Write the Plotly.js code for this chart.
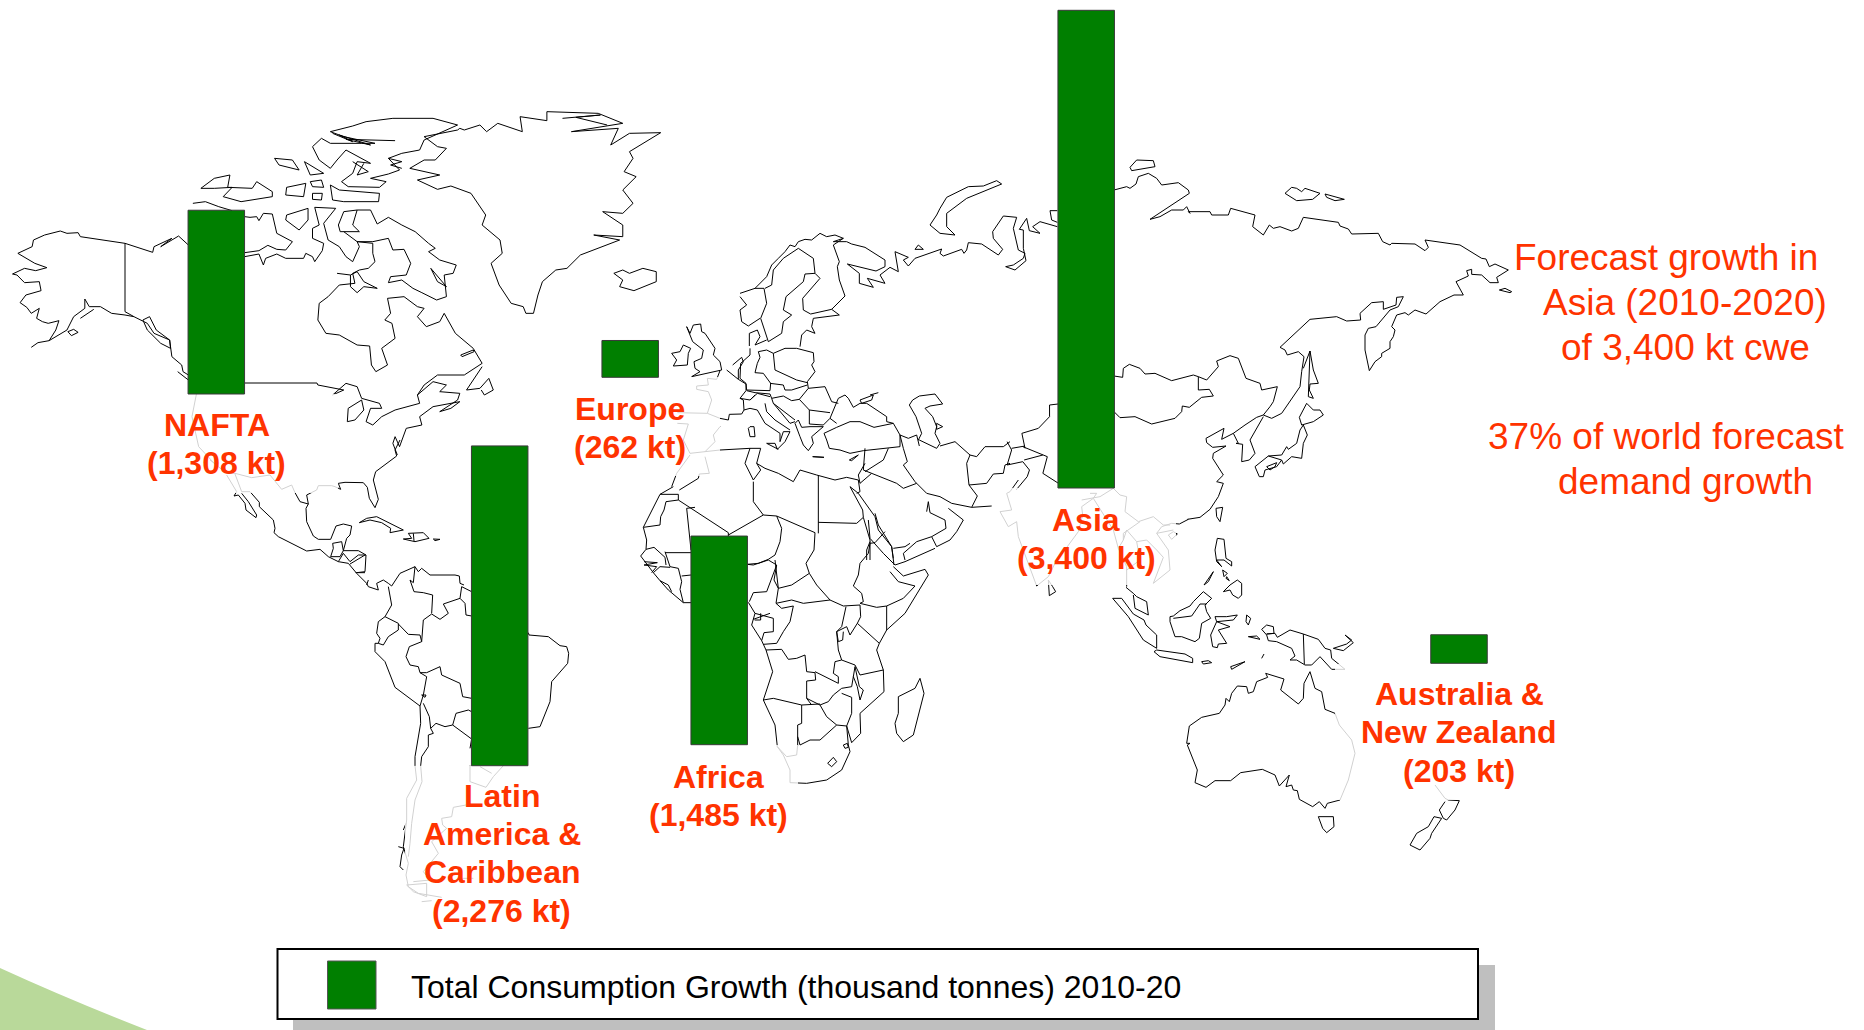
<!DOCTYPE html>
<html><head><meta charset="utf-8"><script src="https://cdn.plot.ly/plotly-3.0.1.min.js"></script>
<style>html,body{margin:0;padding:0;background:#fff}</style></head>
<body><div id="c" style="width:1864px;height:1030px"></div>
<script>
// ---------- chart data ----------
var regions = ['NAFTA','Europe','Latin America & Caribbean','Africa','Asia','Australia & New Zealand'];
var growthKt = [1308,262,2276,1485,3400,203];
var labelLines = [['NAFTA','(1,308 kt)'],['Europe','(262 kt)'],['Latin','America &','Caribbean','(2,276 kt)'],['Africa','(1,485 kt)'],['Asia','(3,400 kt)'],['Australia &','New Zealand','(203 kt)']];
var legendText = 'Total Consumption Growth (thousand tonnes) 2010-20';
var noteLines = ['Forecast growth in','Asia (2010-2020)','of 3,400 kt cwe','37% of world forecast','demand growth'];

// ---------- placement on the page ----------
var barCentre = [216.3,630.2,499.7,719.2,1086.2,1459];
var barBottom = [394,377.3,765.7,744.7,488,663.3];
var labelX = [216.5,630,501.5,718,1086,1459];
var labelY = [[425,463],[409,447],[796,834,872,911],[777,815],[520,558],[694,732,771]];
var noteX = [1666,1685,1685,1666,1685];
var noteY = [257,302,347,436,481];
var pxPerKt = 0.1405;

// ---------- map outline: [x origin, y origin, x scale, y scale, polylines] ----------
var mapNorthAmerica = [0,100,2.24,3,[
[[70,742],[85,728],[110,722],[125,690],[132,662],[108,670],[95,665],[82,655],[88,625],[70,640],[60,622],[45,608],[58,585],[92,572],[88,545],[55,548],[38,525],[28,522],[55,505],[80,512],[105,503],[78,490],[40,460],[72,440],[75,420],[100,405],[135,393],[150,400],[175,398],[180,410],[280,430],[342,457],[345,440],[385,415],[360,440],[400,408],[422,435]],
[[110,722],[150,690],[165,650],[190,625],[190,597],[200,620],[225,620],[250,640],[280,645],[300,650],[330,670],[345,700],[380,720],[385,770],[407,795],[410,815],[422,825]],
[[180,655],[210,628]],[[280,430],[280,635],[300,650]],[[320,660],[335,650],[350,690],[380,720],[382,745],[360,730],[330,690],[320,660]],
[[398,815],[422,840]],[[152,695],[165,688],[175,697],[160,707],[152,695]],
[[432,310],[460,305],[490,320],[520,332]],
[[548,350],[560,352],[575,350],[580,362],[590,340],[610,342],[620,400],[655,425],[640,450],[620,448],[600,436],[580,452],[548,458]],
[[548,470],[580,462],[590,495],[595,475],[620,462],[640,475],[680,475],[685,460],[700,470],[705,485],[722,452],[725,430],[700,415],[700,385],[715,375],[705,322],[752,325],[725,370],[735,420],[760,440],[775,470],[790,485],[805,440],[800,425],[835,430],[835,460],[840,485],[825,505],[805,510],[790,520],[795,550],[760,555],[735,590],[715,610],[712,660],[730,700],[760,705],[800,735],[828,738],[832,795],[842,815],[868,795],[855,745],[885,715],[878,670],[862,660],[875,640],[868,595],[905,590],[935,620],[950,625],[935,650],[955,680],[985,665],[995,640],[1020,700],[1060,745],[1080,790],[1040,825],[980,825],[950,855],[935,885]],
[[758,375],[770,335],[800,330],[790,375],[805,395],[762,395],[758,375]],
[[800,330],[830,330],[845,372],[870,352],[900,375],[930,395],[960,430],[975,445],[960,455],[985,480],[1022,495],[1015,520],[995,525],[1000,590],[978,600],[945,578],[925,565],[900,540],[870,548],[875,530],[910,525],[920,490],[905,448],[880,450],[870,415],[835,425],[800,425],[770,395]],
[[755,520],[785,525],[800,515],[815,545],[845,565],[815,560],[800,578],[785,560],[785,525]],[[965,505],[1000,560],[980,545],[965,505]],
[[1032,765],[1060,750],[1062,755],[1035,770],[1032,765]],
[[1080,800],[1045,870],[1075,865],[1095,835],[1105,870],[1085,885],[1078,870]],
[[548,849],[710,849],[712,855],[770,870],[745,885],[775,850],[800,860],[810,895],[850,910],[855,925],[830,925],[820,965],[835,975],[855,950],[885,930],[940,910],[935,885],[970,845],[1000,855],[985,875],[1030,880],[1025,900],[985,935],[1010,925],[1030,905],[970,920],[940,950],[945,975],[910,985],[895,1040],[885,1010],[880,1030],[890,1065]],
[[778,965],[780,925],[810,900],[815,930],[795,960],[778,965]],
[[440,882],[430,950],[445,1040],[480,1090]],
[[1030,85],[1040,90],[1075,75],[1090,95],[1115,70],[1170,95],[1165,50],[1225,62],[1225,35],[1340,40],[1395,70],[1280,95],[1385,85],[1368,135],[1410,100],[1480,98],[1410,155],[1418,175],[1398,215],[1425,230],[1395,270],[1418,310],[1395,340],[1350,335],[1395,375],[1395,410],[1330,405],[1388,420],[1300,465],[1270,505],[1245,510],[1215,545],[1205,585],[1195,640],[1178,640],[1172,620],[1145,610],[1118,555],[1100,490],[1125,460],[1120,420],[1080,375],[1088,345],[1055,280],[1010,258],[980,268],[935,240],[985,225],[918,205],[950,180],[975,180],[1000,145],[980,140],[950,110],[1025,90],[1030,85]],
[[1260,55],[1345,45],[1290,52],[1360,75]],
[[1375,520],[1395,510],[1410,520],[1440,505],[1470,515],[1470,545],[1420,572],[1388,560],[1395,540],[1375,520]],
[[740,95],[790,78],[820,65],[880,55],[970,55],[1025,75],[950,120],[940,150],[900,160],[870,175],[895,210],[870,222],[830,235],[865,245],[850,262],[780,260],[765,245],[790,220],[800,185],[830,190],[775,150],[755,180],[740,205],[715,180],[700,140],[720,115],[740,130],[810,130],[840,130],[770,110],[740,95]],
[[745,100],[790,125],[760,105],[830,135],[775,118],[885,122]],[[870,175],[900,185],[875,195],[900,205]],[[790,185],[825,215],[800,225],[815,190]],
[[740,255],[760,270],[850,280],[848,305],[770,305],[745,300],[740,255]],
[[450,265],[480,235],[515,225],[510,262],[565,265],[575,245],[610,275],[610,290],[540,305],[500,290],[520,262],[480,265],[450,265]],
[[615,175],[655,180],[670,210],[625,195],[615,175]],[[682,185],[725,220],[695,225],[682,185]],[[695,245],[720,240],[725,262],[700,260],[695,245]],[[642,262],[685,250],[680,290],[640,285],[642,262]],[[700,280],[722,280],[720,300],[700,298],[700,280]],[[642,345],[690,325],[690,360],[670,390],[640,360],[642,345]]
]];
var mapCentralAmerica = [210,440,3,3,[
[[0,60],[50,100],[75,100],[125,113],[180,105],[215,148],[245,135],[255,158],[270,185],[295,192],[290,165],[320,150],[325,137],[365,137],[375,140],[392,148],[385,130],[405,127],[460,128],[472,142],[478,175],[495,203],[505,178],[490,120],[497,95],[560,48],[555,30],[570,0]],
[[295,192],[288,205],[290,245],[310,288],[325,298],[362,298],[378,258],[400,252],[425,258],[420,285],[410,295],[400,332],[445,332],[468,345],[465,395],[440,398]],
[[75,102],[95,155],[120,155],[148,187],[148,200],[190,240],[195,265],[192,278],[205,290],[290,333],[330,328],[355,350],[385,365],[415,370],[440,400],[470,430],[475,440],[505,450],[500,430],[520,420],[535,430],[545,438],[570,400],[615,380],[610,428],[600,420],[612,455],[640,458],[668,465],[665,520]],
[[50,105],[80,155],[72,168],[85,165],[105,190],[108,210],[138,233],[140,225],[115,185],[95,160]],
[[368,310],[395,305],[400,332],[390,350],[362,350],[370,325],[368,310]],[[385,365],[400,340],[420,365],[445,345],[468,345]],[[420,372],[465,345]],[[437,398],[465,398]],[[475,420],[470,435]],
[[615,380],[625,395],[635,385],[660,405],[735,405],[748,408],[750,430],[762,435]],
[[535,440],[545,495],[525,530]],
[[448,248],[470,235],[500,230],[580,270],[540,278],[542,265],[515,248],[480,240],[448,248]],
[[580,297],[605,295],[595,280],[640,278],[657,295],[615,305],[580,297]],[[610,280],[612,303]],[[670,297],[690,298],[675,302],[670,297]]
]];
var mapSouthAmerica = [330,480,3,3,[
[[165,410],[145,425],[140,460],[150,475],[145,490],[160,495],[175,470],[205,450],[205,430],[165,410]],
[[205,432],[235,463],[270,465],[275,485],[238,500],[228,530],[240,555],[265,560],[270,578],[290,578],[330,560],[335,585],[390,610],[398,650],[425,655]],
[[275,485],[280,420],[305,402],[330,418],[355,400],[340,372],[390,355],[405,370],[408,405],[425,408]],[[390,355],[395,320],[425,335]],
[[135,490],[135,515],[165,545],[195,622],[270,678],[280,645],[290,590],[270,578]],
[[145,490],[135,490]],[[270,678],[272,730],[255,830],[255,857]],
[[280,670],[298,710],[302,745],[318,730],[345,740],[368,735],[378,700],[415,690],[425,695]],[[368,735],[425,777]],[[302,745],[310,760],[295,765],[295,800],[275,830],[272,857]],[[420,805],[425,777]],
[[275,645],[288,645],[285,652],[275,645]],
[[595,458],[597,465],[655,470],[690,497],[710,500],[716,520],[713,550],[665,605],[660,665],[630,740],[595,745]],
[[255,857],[260,900],[230,955],[230,1020],[220,1100],[235,1150],[228,1185],[235,1220],[265,1240],[335,1252]],
[[272,857],[276,905],[255,960],[245,1030],[240,1090],[235,1130]],
[[420,857],[420,905],[468,922],[490,890],[520,857]],[[485,880],[450,860]],
[[408,975],[370,982],[365,1010],[335,1015],[338,1035],[350,1045],[305,1085],[325,1120],[280,1175],[300,1200],[250,1205]],
[[230,1215],[290,1210],[290,1250],[250,1235],[230,1215]],[[275,1265],[305,1262]],[[205,1100],[222,1105],[215,1125],[210,1160],[220,1170]],[[220,1050],[228,1030]],[[430,1195],[395,1195]]
]];
var mapAfrica = [620,450,3,3,[
[[160,110],[120,133],[175,133],[175,150],[138,155],[132,180],[122,200],[120,225],[70,232],[80,270],[78,298],[62,318],[75,335],[100,368],[120,392],[145,420],[190,458],[213,458]],
[[70,232],[120,133]],[[175,150],[325,248],[325,262]],[[200,175],[225,172]],[[200,175],[213,300]],
[[78,298],[102,292],[135,322],[138,345]],[[135,308],[213,308]],[[135,305],[150,350],[175,355],[185,395],[180,418],[190,458]],[[185,378],[213,375]],[[100,368],[120,350],[150,352]],[[120,392],[145,405],[155,425]],[[72,335],[112,338],[72,345],[110,350],[95,368]],
[[325,255],[430,195],[470,198],[485,235],[480,275],[465,315],[445,328],[415,340],[382,343]],[[430,195],[400,155],[400,95]],
[[470,198],[585,248],[582,300],[558,340],[568,370],[590,405],[630,450]],[[465,330],[475,415],[515,405],[568,370]],
[[382,343],[400,345],[445,330],[470,345],[440,425],[400,428],[388,455]],[[470,345],[462,390],[475,415],[468,460],[485,475]],
[[385,457],[405,490],[395,525],[425,572],[438,600]],[[405,490],[460,505],[460,545],[432,548],[425,572]],[[404,510],[422,510],[422,490]],[[400,508],[450,490]],
[[485,475],[520,468],[510,515],[490,545],[470,580],[430,583]],[[468,460],[515,450],[550,460],[630,450],[670,468]],
[[438,600],[485,598],[505,628],[530,625],[555,615],[560,665],[585,668],[587,690],[560,693],[560,745],[575,765]],
[[585,665],[655,700],[655,680],[640,670],[645,635],[665,630],[655,600],[650,545],[665,530],[678,470]],
[[670,468],[720,465],[722,500],[712,520],[690,555],[680,530],[650,545],[655,575],[668,570],[670,545]],[[712,520],[778,580]],
[[720,460],[770,472],[800,468],[800,540],[778,580]],[[800,540],[855,490],[925,375],[915,358],[850,378],[820,350]],[[800,468],[850,445],[885,408],[835,395],[810,365]],
[[665,630],[705,645],[720,675],[790,660],[770,600],[778,580]],
[[700,408],[725,430],[730,455],[720,460]],[[700,408],[715,375],[720,340],[745,310],[750,280],[765,278]],
[[745,210],[750,265],[790,310],[825,345]],[[765,278],[795,245]],[[765,190],[775,225],[815,290],[822,345]],[[825,345],[855,335],[945,295]],
[[835,740],[885,715],[900,685],[912,730],[880,855],[850,875],[830,850],[825,820],[835,790],[835,740]],
[[438,600],[458,665],[430,750],[460,745],[545,765],[600,762]],[[430,750],[465,825],[472,890]],[[545,765],[545,820],[533,825],[533,885]],
[[560,745],[600,765],[625,755],[640,735],[665,715],[695,710],[705,650]],[[600,765],[620,800],[650,825],[680,828],[695,790],[695,742],[665,730]],
[[533,860],[540,885],[570,870],[600,870],[650,825]],
[[790,660],[792,725],[720,790],[722,850],[695,878],[680,828],[685,885],[690,905],[665,960],[620,990],[560,1000]],
[[705,650],[718,710],[730,720],[720,750],[712,710],[700,680]],[[670,885],[682,880],[685,892],[675,895],[670,885]],[[623,940],[640,922],[650,935],[635,950],[623,940]],
[[472,890],[490,915],[510,960],[510,998],[560,1000]],[[472,890],[500,920],[530,915],[533,885]]
]];
var mapEurope = [670,320,3,3,[
[[65,170],[155,150],[150,125],[130,105],[135,85],[105,40],[95,35],[92,12],[70,15],[60,40],[50,20],[68,65],[100,90],[95,115],[72,125],[75,145],[90,155],[65,170]],
[[5,100],[30,95],[40,75],[62,85],[55,100],[52,135],[10,138],[20,120],[5,100]],
[[150,152],[140,178],[112,175],[115,195],[80,198],[80,208],[115,215],[125,240],[112,280],[150,295],[175,300],[178,283],[215,282],[222,270],[220,240],[210,235],[228,212],[228,192],[205,178],[170,150]],
[[22,278],[112,280]],[[22,310],[55,312],[40,360],[60,400],[105,395],[150,390],[240,385],[272,385],[260,430],[285,445],[325,460],[370,485],[390,450],[440,465],[495,480],[530,472],[565,480]],
[[150,320],[130,345],[135,365],[105,395]],[[60,405],[20,460],[5,500]],[[105,410],[118,460],[88,462],[85,475],[28,510]],
[[240,385],[225,430],[250,480]],[[272,450],[250,480]],[[260,430],[272,450]],
[[445,465],[445,640]],[[445,607],[560,610],[580,592]],
[[565,520],[540,500],[578,570],[580,592],[600,660],[600,720]],[[565,520],[615,590],[625,630],[665,680],[670,715]],[[565,480],[570,515],[560,520]],[[585,430],[565,465],[570,490]],
[[605,460],[680,490],[700,505],[740,490]],[[585,385],[580,450],[605,460]],[[655,385],[640,420],[585,455]],[[570,490],[605,460]],
[[470,360],[478,385],[510,390],[540,400],[580,392],[690,380]],[[462,340],[500,322],[540,305],[570,305],[612,322],[670,310],[690,345],[690,380]],[[462,340],[470,360]],
[[670,310],[650,305],[650,290],[590,250],[570,250],[550,262],[535,235],[525,225],[505,235],[480,295],[500,310]],[[415,205],[465,200],[485,245],[505,250]],
[[570,240],[610,225],[605,240],[575,250],[570,240]],[[600,225],[625,218]],[[388,238],[418,270],[480,278]],[[418,270],[418,312],[460,315],[480,295]],
[[375,310],[390,350],[400,375],[415,392],[430,370],[425,350],[460,320],[420,320],[395,322],[385,300],[375,310]],[[428,410],[462,412],[428,410]],[[538,420],[565,405],[545,422],[538,420]],
[[222,270],[240,265],[262,270],[285,310],[330,340],[330,365],[340,335],[360,335],[345,365],[322,388],[315,370],[290,370],[325,388]],[[285,250],[290,275],[315,300],[360,330]],
[[240,320],[252,320],[255,350],[240,350],[235,325],[240,320]],
[[188,135],[215,112],[220,125],[205,150],[205,178]],[[238,78],[238,40],[262,30],[270,50],[255,75],[290,60]],
[[240,85],[240,105],[212,130],[210,175],[228,190],[230,210],[300,212],[302,190],[280,160],[255,158],[262,130],[270,112],[265,95],[290,90],[310,100],[315,150],[380,180],[412,188]],
[[310,100],[345,85],[380,85],[430,98],[432,125],[425,135],[435,155],[412,185],[415,205],[388,238],[365,242],[340,228],[305,235],[300,222],[255,218],[230,212]],
[[300,190],[340,195],[345,210],[365,210],[412,195]],[[210,235],[240,240],[255,225]],[[240,240],[262,220],[300,230]],
[[305,235],[310,250],[360,310],[375,305]],[[310,250],[375,300]],
[[748,360],[800,385],[810,370],[795,340],[800,320],[788,290],[765,265],[780,258],[818,252],[795,222],[748,228],[728,240],[718,255],[738,290],[755,340],[745,360],[748,360]],[[800,310],[818,320],[800,328],[800,310]],
[[690,345],[715,355],[740,345],[748,378]],[[690,345],[700,385],[712,425],[700,435],[735,485],[740,490]],
[[740,490],[770,520],[810,530],[845,550],[905,562],[965,558]],[[905,562],[922,528],[897,495],[890,430],[900,405],[855,365],[810,378]],
[[900,405],[920,410],[945,380],[1000,380],[1020,365]],[[897,495],[950,490],[970,462],[1000,460],[1005,435],[1020,430]],
[[835,565],[880,600],[860,635],[840,660],[800,680],[785,650],[828,625],[825,600],[780,578],[775,545],[770,575]],[[785,650],[740,665],[700,700],[705,720]],[[670,685],[705,680],[720,670]],[[600,665],[590,690],[590,720]]
]];
var mapNorthEurasia = [740,170,3,3,[
[[0,370],[45,355],[80,320],[95,285],[115,265],[135,245],[150,225],[165,230],[175,215],[195,208],[215,210],[240,190],[260,200],[285,195],[310,205],[280,215],[300,215],[320,215],[335,222],[375,232],[435,270],[435,290],[408,303],[322,282],[358,310],[358,340],[400,352],[382,325],[435,340],[420,315],[450,292],[475,305],[465,245],[505,262],[490,270],[505,288],[525,265],[605,237],[600,250],[610,258],[665,238],[672,250],[680,240],[685,218],[725,222],[775,255],[788,238],[760,205],[758,185],[790,138],[830,142],[820,175],[835,240],[855,250],[850,265],[820,285],[797,290],[825,300],[858,272],[850,235],[850,180],[838,178],[860,145],[868,182],[900,190],[878,170],[900,155],[952,170]],
[[570,165],[590,135],[600,115],[620,82],[685,50],[730,48],[770,32],[785,42],[680,85],[620,130],[620,170],[645,195],[600,190],[570,165]],[[525,238],[535,225],[550,238],[525,238]],[[952,122],[930,122],[935,150],[952,157]],
[[175,235],[220,265],[225,310],[240,325],[188,385],[190,420],[212,432],[275,418],[298,435],[220,445],[215,470],[225,490],[200,480],[185,495],[180,530]],
[[45,355],[72,355],[80,400],[62,445],[85,515],[125,490],[130,455],[155,435],[130,420],[138,380],[190,335],[195,312],[225,310]],
[[310,205],[280,225],[298,275],[292,290],[298,330],[315,378],[275,418]],[[0,380],[20,405],[0,420],[5,455],[25,468],[60,445]],
[[175,235],[130,265],[100,300],[95,345],[75,355]]
]];
var mapSouthAsia = [650,200,2.24,3,[
[[800,725],[810,750],[800,795]],
[[800,795],[835,785],[850,810],[845,830],[820,870]],[[835,740],[890,770],[880,820],[915,850]],[[810,745],[840,738]],[[880,765],[838,780]],
[[840,745],[833,700],[870,685],[895,650],[895,615],[914,612]]
]];
var mapEastAsia = [1100,160,3,3,[
[[42,90],[80,80],[90,85],[108,72],[115,50],[145,40],[170,55],[185,75],[235,68],[265,90],[268,100],[150,178],[180,170],[215,150],[250,150],[260,140],[270,160],[265,155],[330,155],[335,165],[385,165],[392,145],[465,165],[458,200],[490,225],[508,195],[520,205],[540,200],[575,213],[595,205],[610,172],[715,187],[720,198],[745,207],[755,222],[835,220],[848,245],[870,255],[875,250],[945,252],[975,272],[985,262],[975,240],[1080,255],[1145,295],[1158,297],[1168,320],[1185,312],[1225,330],[1190,352],[1195,368],[1170,368],[1145,345],[1115,343],[1115,328],[1100,332],[1105,348],[1068,365],[1090,405],[1062,405],[1020,425],[978,462],[945,450],[925,465],[915,458],[890,465],[875,500],[885,510],[880,530],[870,545],[870,565],[845,580],[845,590],[825,605],[808,632],[795,570],[795,525],[805,505],[828,500],[870,450],[895,440],[910,410],[890,412],[888,435],[850,448],[850,425],[815,428],[780,460],[782,480],[740,483],[710,470],[630,478],[540,562],[555,570],[562,585],[595,575],[612,590],[605,635],[600,680],[545,760],[515,775],[490,765],[510,740],[520,725],[532,680],[485,690],[480,670],[438,655],[415,595],[390,587],[350,603],[355,620],[320,660],[295,650],[280,645],[215,662],[165,640],[135,642],[120,625],[88,613],[70,625],[68,652],[42,648]],
[[42,755],[60,773],[105,770],[155,792],[225,775],[245,755],[247,738],[268,742],[305,712],[340,708],[328,688],[295,690],[295,650]],
[[490,765],[470,772],[435,795],[400,820],[365,838],[372,805],[318,835],[320,848],[338,862],[378,858],[340,880],[338,895],[370,945],[350,965],[370,970],[355,1010],[330,1048],[300,1072],[262,1078]],
[[400,820],[415,850],[408,850],[428,853],[425,905],[448,900],[465,880],[450,840],[490,770]],
[[630,573],[625,710],[640,715],[628,690],[630,672],[655,670],[640,630],[630,573],[610,625]],
[[620,730],[598,772],[605,795],[640,785],[670,765],[660,750],[640,750],[620,730]],
[[610,795],[622,825],[610,850],[605,895],[575,890],[550,912],[545,900],[505,888],[465,920],[478,950],[490,950],[495,930],[530,920],[545,900]],[[505,888],[545,885],[560,860],[565,868],[590,850],[600,810],[610,795]],[[500,920],[530,908],[525,920],[510,930],[500,920]],
[[555,100],[575,82],[590,85],[605,95],[615,85],[660,100],[638,118],[590,122],[555,100]],[[675,102],[733,118],[705,122],[680,112],[675,102]],[[1198,390],[1215,385],[1235,395],[1230,398],[1198,390]],
[[90,22],[110,0],[160,2],[165,20],[95,32],[90,22]]
]];
var mapOceania = [1000,480,3,3,[
[[565,118],[538,132],[515,130],[485,140],[470,160],[520,150]],
[[415,125],[460,110],[490,135],[510,135]],[[55,0],[30,35],[20,40],[35,90],[0,95],[25,140],[50,125],[55,170],[110,318],[145,290],[165,250],[235,155],[248,105],[245,80],[280,55],[290,40],[270,40]],
[[245,60],[300,50],[340,25],[360,45],[380,50],[375,95],[415,125]],[[280,55],[340,150],[355,205],[380,260],[380,320]],[[355,205],[370,180],[370,160],[420,125]],
[[380,270],[420,240],[410,185],[440,180],[470,210],[490,232],[460,310],[510,270],[505,210],[470,160]],[[505,165],[520,155],[532,162],[515,178],[505,165]],[[410,185],[380,150],[370,180]],
[[378,322],[400,340],[410,350],[440,365],[445,405],[405,385],[400,345]],
[[338,355],[365,355],[400,402],[432,420],[438,435],[470,465],[470,505],[430,480],[385,410],[338,355]],
[[462,515],[470,510],[555,522],[578,535],[578,548],[480,530],[462,515]],[[605,545],[625,542],[635,548],[610,552],[605,545]],[[692,560],[735,545],[695,568],[692,560]],
[[510,410],[520,408],[540,392],[570,378],[580,365],[610,335],[635,355],[615,375],[620,395],[632,415],[605,430],[598,475],[585,485],[545,470],[525,470],[510,425],[510,410]],[[520,415],[575,408],[600,372],[620,372]],
[[645,410],[680,410],[712,405],[700,420],[650,425],[690,440],[655,450],[680,490],[655,492],[652,503],[638,500],[632,465],[650,425],[645,410]],
[[652,175],[672,178],[678,235],[695,245],[695,258],[672,240],[650,240],[665,260],[650,245],[645,210],[652,175]],[[612,315],[640,275],[625,305],[612,315]],[[668,270],[682,280],[672,290],[668,270]],[[680,290],[688,302],[678,295],[680,290]],
[[670,335],[690,315],[712,300],[725,310],[725,345],[715,355],[698,345],[690,330],[670,335]],[[648,85],[668,82],[660,125],[650,110],[648,85]],[[740,405],[752,415],[745,435],[738,425],[740,405]],
[[785,448],[800,435],[820,440],[822,460],[800,462],[825,460],[832,472],[870,450],[910,462],[955,478],[975,505],[992,510],[995,535],[1035,568],[995,568],[960,530],[935,555],[915,555],[890,540],[870,540],[885,528],[875,505],[830,485],[805,482],[800,465],[785,448]],[[910,462],[913,552]],
[[1000,505],[1040,492],[1055,480],[1035,465],[1060,488],[1030,512],[1000,505]],[[745,470],[770,468],[780,478],[745,470]],[[785,535],[792,522]],
[[930,575],[912,610],[910,655],[895,672],[842,630],[852,597],[797,580],[803,592],[770,605],[760,635],[745,640],[740,620],[712,618],[695,640],[688,665],[678,655],[675,675],[658,700],[605,712],[568,738],[560,790],[570,790],[562,795],[592,870],[585,908],[618,922],[645,902],[692,902],[722,878],[787,868],[825,885],[838,918],[868,885],[858,920],[875,915],[880,930],[892,932],[898,958],[938,980],[958,965],[975,985],[982,970],[1020,960],[1045,900],[1065,820],[1055,780],[1018,735],[1005,700],[975,688],[965,635],[945,625],[930,575]],
[[955,1010],[1000,1010],[1002,1040],[980,1058],[968,1045],[955,1010]],
[[1305,915],[1335,955],[1345,960],[1378,962],[1365,990],[1340,1020],[1330,1015],[1318,990],[1335,965]],[[1325,1015],[1295,1060],[1290,1075],[1260,1110],[1230,1095],[1250,1060],[1285,1040],[1302,1010],[1325,1015]],
[[145,300],[158,320],[167,335],[148,347],[145,300]]
]];
var mapParts = [mapNorthAmerica,mapCentralAmerica,mapSouthAmerica,mapAfrica,mapEurope,mapNorthEurasia,mapSouthAsia,mapEastAsia,mapOceania];
// Where each label's pale box dims the map underneath: [x0,x1,y0,y1]
var labelBoxes = [[95,338,394,493],[560,720,377,476],[405,600,766,925],[650,798,745,835],[992,1176,488,585],[1335,1570,664,800]];

// ---------- build ----------
var mapX=[],mapY=[];
mapParts.forEach(function(p){p[4].forEach(function(line){
  line.forEach(function(q){mapX.push(p[0]+q[0]/p[2]);mapY.push(p[1]+q[1]/p[3]);});
  mapX.push(null);mapY.push(null);
});});
var boxX=[],boxY=[];
labelBoxes.forEach(function(b){boxX.push(b[0],b[1],b[1],b[0],b[0],null);boxY.push(b[2],b[2],b[3],b[3],b[2],null);});

var traces=[
 {type:'scatter',mode:'lines',x:mapX,y:mapY,line:{color:'#000',width:1,simplify:false},hoverinfo:'skip',showlegend:false,connectgaps:false},
 {type:'scatter',mode:'none',x:boxX,y:boxY,fill:'toself',fillcolor:'rgba(255,255,255,0.82)',hoverinfo:'skip',showlegend:false},
 {type:'bar',x:barCentre,y:growthKt,base:barBottom.map(function(b,i){return (1030-b)/pxPerKt;}),width:56.5,yaxis:'y2',text:regions,textposition:'none',
  hoverinfo:'text+y',marker:{color:'#007f00',line:{color:'#3a3a3a',width:1}},showlegend:false}
];
var ann=[];
var labelStyle={family:'Liberation Sans, Arial, sans-serif',size:32,color:'#ff3300'};
labelLines.forEach(function(lines,i){lines.forEach(function(t,j){
  ann.push({x:labelX[i],y:labelY[i][j],xref:'x',yref:'y',text:'<b>'+t.replace('&','&amp;')+'</b>',showarrow:false,xanchor:'center',yanchor:'middle',font:{family:labelStyle.family,size:labelStyle.size,color:labelStyle.color}});
});});
noteLines.forEach(function(t,i){
  ann.push({x:noteX[i],y:noteY[i],xref:'x',yref:'y',text:t,showarrow:false,xanchor:'center',yanchor:'middle',font:{family:labelStyle.family,size:37,color:'#ff3300'}});
});
ann.push({x:408.5,y:987,xref:'x',yref:'y',text:legendText,showarrow:false,xanchor:'left',yanchor:'middle',font:{family:labelStyle.family,size:32,color:'#000'}});

var shapes=[
 {type:'path',layer:'below',path:'M0,968 Q70,1000 147,1030 L0,1030 Z',xref:'x',yref:'y',fillcolor:'#b9d99a',line:{width:0}},
 {type:'rect',layer:'above',xref:'x',yref:'y',x0:293,x1:1495,y0:965,y1:1030,fillcolor:'#bfbfbf',line:{width:0}},
 {type:'rect',layer:'above',xref:'x',yref:'y',x0:277.5,x1:1478,y0:949,y1:1019,fillcolor:'#fff',line:{color:'#000',width:2}},
 {type:'rect',layer:'above',xref:'x',yref:'y',x0:327.5,x1:376,y0:961,y1:1009,fillcolor:'#007f00',line:{color:'#555',width:1}}
];
var layout={width:1864,height:1030,margin:{l:0,r:0,t:0,b:0},paper_bgcolor:'#fff',plot_bgcolor:'rgba(0,0,0,0)',showlegend:false,hovermode:'closest',
 xaxis:{range:[0,1864],visible:false,fixedrange:true},
 yaxis:{range:[1030,0],visible:false,fixedrange:true},
 yaxis2:{range:[0,1030/pxPerKt],visible:false,overlaying:'y',fixedrange:true},
 annotations:ann,shapes:shapes};
Plotly.newPlot('c',traces,layout,{displayModeBar:false,responsive:false});
</script></body></html>
